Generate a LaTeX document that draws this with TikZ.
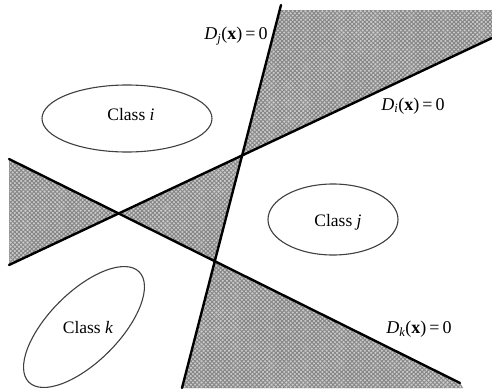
\documentclass[tikz,border=0pt]{standalone}
\usepackage{fontspec}
\setmainfont{Liberation Serif}
\usetikzlibrary{shapes.geometric,patterns.meta}
\tikzset{
  bound/.style={line width=2.4pt, black, line cap=round},
  hatch/.style={fill=gray!40, postaction={pattern={Lines[angle=45,distance=3pt,line width=1pt]}, pattern color=gray!95},
                postaction={pattern={Lines[angle=-45,distance=3pt,line width=1pt]}, pattern color=gray!95}},
  classell/.style={draw=black!75, line width=1.1pt, ellipse, inner sep=0pt},
  txt/.style={font=\fontsize{17.5}{20}\selectfont, inner sep=0pt},
  lab/.style={font=\fontsize{18}{20}\selectfont, inner sep=0pt},
}
\newcommand{\lbl}[1]{\textit{D}\textsubscript{\itshape #1}(\textbf{x})\,=\,0}
\begin{document}
\begin{tikzpicture}[x=1pt,y=-1pt]
\useasboundingbox (0,0) rectangle (492,391);
\fill[white] (0,0) rectangle (492,391);
% line end points
\coordinate (a1) at (281,5);
\coordinate (a2) at (182,388);
\coordinate (b1) at (9,265);
\coordinate (b2) at (492,38);
\coordinate (c1) at (9,159);
\coordinate (c2) at (460,383);
\coordinate (ab) at (intersection of a1--a2 and b1--b2);
\coordinate (ac) at (intersection of a1--a2 and c1--c2);
\coordinate (bc) at (intersection of b1--b2 and c1--c2);
\coordinate (atop) at (intersection of a1--a2 and 0,10--492,10);
\coordinate (tr) at (492,10);
\coordinate (br) at (463,388);
% shaded regions
\fill[hatch] (c1) -- (bc) -- (b1) -- cycle;
\fill[hatch] (bc) -- (ab) -- (ac) -- cycle;
\fill[hatch] (ab) -- (atop) -- (tr) -- (b2) -- cycle;
\fill[hatch] (ac) -- (c2) -- (br) -- (a2) -- cycle;
% boundaries
\draw[bound] (a1) -- (a2);
\draw[bound] (b1) -- (b2);
\draw[bound] (c1) -- (c2);
% classes
\node[classell, minimum width=170pt, minimum height=67pt] (ei) at (127,118.5) {};
\node[txt] (ci) at (131,115) {Class \textit{i}};
\node[classell, minimum width=130pt, minimum height=71pt] (ej) at (333,219.5) {};
\node[txt] (cj) at (338,222) {Class \textit{j}};
\node[classell, rotate=45, minimum width=156pt, minimum height=70pt] (ek) at (84,327) {};
\node[txt] (ck) at (88,328) {Class \textit{k}};
% labels
\node[lab] (lj) at (236,36) {\lbl{j}};
\node[lab] (li) at (413,106) {\lbl{i}};
\node[lab] (lk) at (419,329) {\lbl{k}};
\end{tikzpicture}
\end{document}
